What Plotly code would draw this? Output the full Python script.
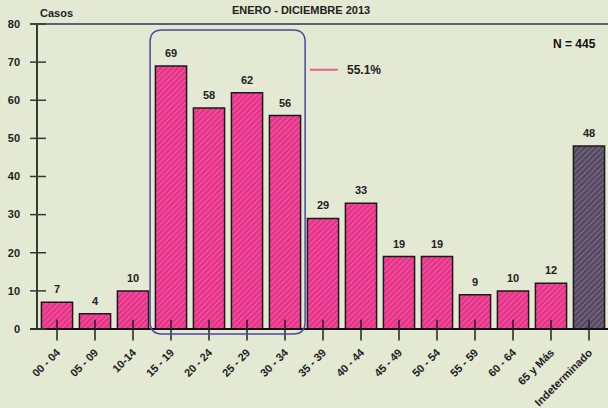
import plotly.graph_objects as go

categories = ["00 - 04", "05 - 09", "10-14", "15 - 19", "20 - 24", "25 - 29", "30 - 34",
              "35 - 39", "40 - 44", "45 - 49", "50 - 54", "55 - 59", "60 - 64", "65 y Más",
              "Indeterminado"]
casos = [7, 4, 10, 69, 58, 62, 56, 29, 33, 19, 19, 9, 10, 12, 48]
y_ticks = [0, 10, 20, 30, 40, 50, 60, 70, 80]
total_label = "N = 445"
group_pct = "55.1%"
title_text = "ENERO - DICIEMBRE 2013"

PINK = "#e8348a"
PURPLE = "#574a64"
BG = "#e4e9d3"
FONT = "Liberation Sans, Arial, sans-serif"

n = len(categories)
colors = [PINK] * (n - 1) + [PURPLE]
pat_fg = ["#c42a70"] * (n - 1) + ["#3a3044"]

fig = go.Figure()
fig.add_trace(go.Bar(
    x=list(range(n)), y=casos, width=0.82,
    marker=dict(color=colors, line=dict(color="#1a1a1a", width=1.5),
                pattern=dict(shape="/", fgcolor=pat_fg, size=4, solidity=0.15)),
    showlegend=False, hoverinfo="x+y",
))

XMIN, XMAX, YMAX = -0.5, n - 0.5, 80

def px(x):
    return (x - XMIN) / (XMAX - XMIN)

def py(y):
    return y / YMAX

shapes = []
shapes.append(dict(type="line", xref="paper", yref="paper", x0=-0.014, x1=1, y0=1, y1=1,
                   line=dict(color="#2c3558", width=1.5)))
shapes.append(dict(type="line", xref="paper", yref="paper", x0=-0.014, x1=1, y0=0, y1=0,
                   line=dict(color="#111111", width=2)))
for i in range(n):
    shapes.append(dict(type="line", xref="paper", yref="paper", x0=px(i), x1=px(i),
                       y0=-0.038, y1=0.03, line=dict(color="#222222", width=1.5)))
for t in y_ticks:
    shapes.append(dict(type="line", xref="paper", yref="paper", x0=-0.014, x1=0.014,
                       y0=py(t), y1=py(t), line=dict(color="#2f3f2f", width=1.5)))
x0, x1 = px(2.45), px(6.53)
y0, y1 = py(-1.3), py(78.4)
rx, ry = 12 / 570, 12 / 307
path = (f"M {x0+rx},{y0} L {x1-rx},{y0} Q {x1},{y0} {x1},{y0+ry} "
        f"L {x1},{y1-ry} Q {x1},{y1} {x1-rx},{y1} L {x0+rx},{y1} "
        f"Q {x0},{y1} {x0},{y1-ry} L {x0},{y0+ry} Q {x0},{y0} {x0+rx},{y0} Z")
shapes.append(dict(type="path", xref="paper", yref="paper", path=path,
                   line=dict(color="#4a4aa0", width=1.5)))
shapes.append(dict(type="line", xref="paper", yref="paper", x0=0.477, x1=0.526,
                   y0=0.850, y1=0.850, line=dict(color="#e0608e", width=2)))

annotations = [
    dict(text="<b>Casos</b>", xref="paper", yref="paper", x=0, y=1, xanchor="left",
         yanchor="bottom", yshift=3, showarrow=False, font=dict(family=FONT, size=11, color="#222")),
    dict(text=f"<b>{title_text}</b>", xref="paper", yref="paper", x=0.461, y=1.046,
         xanchor="center", yanchor="middle", showarrow=False,
         font=dict(family=FONT, size=11, color="#222")),
    dict(text=f"<b>{total_label}</b>", xref="paper", yref="paper", x=0.982, y=0.935,
         xanchor="right", yanchor="middle", showarrow=False,
         font=dict(family=FONT, size=12, color="#111")),
    dict(text=f"<b>{group_pct}</b>", xref="paper", yref="paper", x=0.539, y=0.850,
         xanchor="left", yanchor="middle", showarrow=False,
         font=dict(family=FONT, size=12, color="#222")),
]
for i, v in enumerate(casos):
    annotations.append(dict(text=f"<b>{v}</b>", x=i, y=v, xref="x", yref="y",
                            yanchor="bottom", yshift=5, showarrow=False,
                            font=dict(family=FONT, size=11, color="#222")))

fig.update_layout(
    width=608, height=408, margin=dict(l=38, r=0, t=24, b=77),
    paper_bgcolor=BG, plot_bgcolor=BG, bargap=0.18,
    shapes=shapes, annotations=annotations,
    xaxis=dict(range=[XMIN, XMAX], tickmode="array", tickvals=list(range(n)),
               ticktext=categories, tickangle=-45, showgrid=False, zeroline=False,
               showline=False, ticks="", ticklabelstandoff=14,
               tickfont=dict(family=FONT, size=11, color="#222", weight="bold")),
    yaxis=dict(range=[0, YMAX], tickmode="array", tickvals=y_ticks, showgrid=False,
               zeroline=False, showline=True, linecolor="#2f3f2f", linewidth=1.5,
               ticks="", ticklabelstandoff=14,
               tickfont=dict(family=FONT, size=11, color="#222", weight="bold")),
)

fig.write_html("out.html", config={"displayModeBar": False},
               post_script="document.body.style.margin='0px';document.body.style.padding='0px';document.body.style.background='" + BG + "';")
